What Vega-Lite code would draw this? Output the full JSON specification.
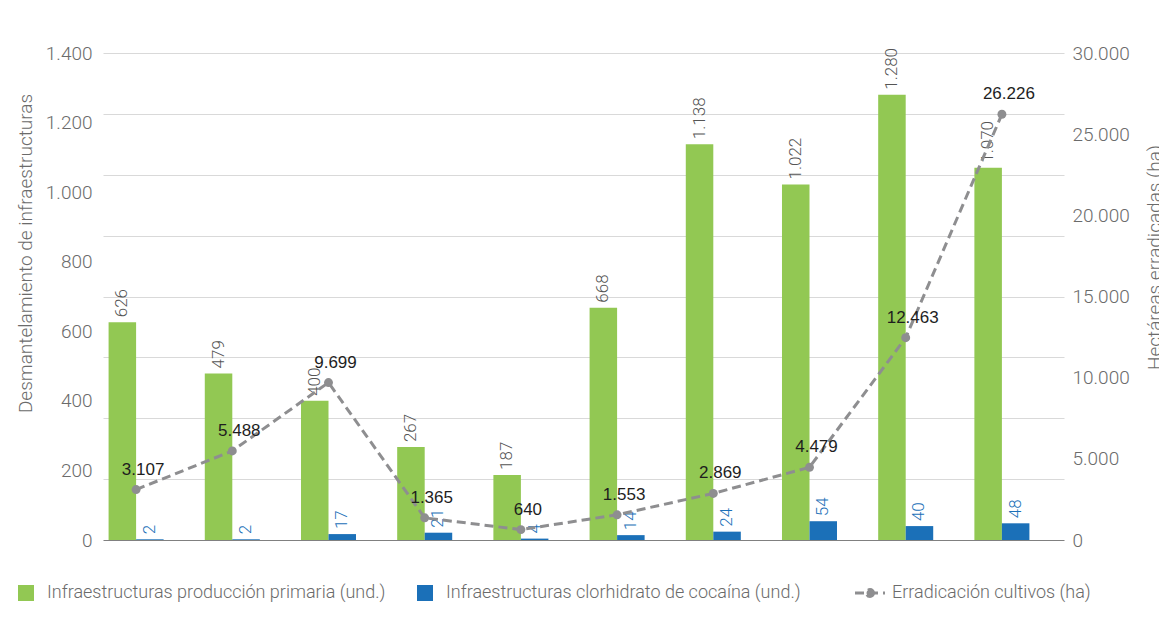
{
  "$schema": "https://vega.github.io/schema/vega-lite/v6.json",
  "width": 961,
  "height": 487,
  "autosize": "none",
  "padding": {"left": 103, "top": 53, "right": 95, "bottom": 86},
  "background": "white",
  "datasets": {
    "barras": [
      {"periodo": "1", "serie": "Infraestructuras producción primaria (und.)", "valor": 626},
      {"periodo": "1", "serie": "Infraestructuras clorhidrato de cocaína (und.)", "valor": 2},
      {"periodo": "2", "serie": "Infraestructuras producción primaria (und.)", "valor": 479},
      {"periodo": "2", "serie": "Infraestructuras clorhidrato de cocaína (und.)", "valor": 2},
      {"periodo": "3", "serie": "Infraestructuras producción primaria (und.)", "valor": 400},
      {"periodo": "3", "serie": "Infraestructuras clorhidrato de cocaína (und.)", "valor": 17},
      {"periodo": "4", "serie": "Infraestructuras producción primaria (und.)", "valor": 267},
      {"periodo": "4", "serie": "Infraestructuras clorhidrato de cocaína (und.)", "valor": 21},
      {"periodo": "5", "serie": "Infraestructuras producción primaria (und.)", "valor": 187},
      {"periodo": "5", "serie": "Infraestructuras clorhidrato de cocaína (und.)", "valor": 4},
      {"periodo": "6", "serie": "Infraestructuras producción primaria (und.)", "valor": 668},
      {"periodo": "6", "serie": "Infraestructuras clorhidrato de cocaína (und.)", "valor": 14},
      {"periodo": "7", "serie": "Infraestructuras producción primaria (und.)", "valor": 1138},
      {"periodo": "7", "serie": "Infraestructuras clorhidrato de cocaína (und.)", "valor": 24},
      {"periodo": "8", "serie": "Infraestructuras producción primaria (und.)", "valor": 1022},
      {"periodo": "8", "serie": "Infraestructuras clorhidrato de cocaína (und.)", "valor": 54},
      {"periodo": "9", "serie": "Infraestructuras producción primaria (und.)", "valor": 1280},
      {"periodo": "9", "serie": "Infraestructuras clorhidrato de cocaína (und.)", "valor": 40},
      {"periodo": "10", "serie": "Infraestructuras producción primaria (und.)", "valor": 1070},
      {"periodo": "10", "serie": "Infraestructuras clorhidrato de cocaína (und.)", "valor": 48}
    ],
    "linea": [
      {"periodo": "1", "serieL": "Erradicación cultivos (ha)", "ha": 3107},
      {"periodo": "2", "serieL": "Erradicación cultivos (ha)", "ha": 5488},
      {"periodo": "3", "serieL": "Erradicación cultivos (ha)", "ha": 9699},
      {"periodo": "4", "serieL": "Erradicación cultivos (ha)", "ha": 1365},
      {"periodo": "5", "serieL": "Erradicación cultivos (ha)", "ha": 640},
      {"periodo": "6", "serieL": "Erradicación cultivos (ha)", "ha": 1553},
      {"periodo": "7", "serieL": "Erradicación cultivos (ha)", "ha": 2869},
      {"periodo": "8", "serieL": "Erradicación cultivos (ha)", "ha": 4479},
      {"periodo": "9", "serieL": "Erradicación cultivos (ha)", "ha": 12463},
      {"periodo": "10", "serieL": "Erradicación cultivos (ha)", "ha": 26226}
    ]
  },
  "layer": [
    {
      "data": {"values": [{"g": 0}]},
      "mark": {"type": "rule", "opacity": 0},
      "encoding": {
        "y": {
          "field": "g", "type": "quantitative",
          "scale": {"domain": [0, 8], "nice": false},
          "axis": {
            "orient": "left", "values": [0, 1, 2, 3, 4, 5, 6, 7, 8],
            "grid": true,
            "gridColor": {"condition": {"test": "datum.value === 0", "value": "#808080"}, "value": "#d9d9d9"},
            "gridWidth": 1.2,
            "labels": false, "ticks": false, "domain": false, "title": null
          }
        }
      }
    },
    {
      "data": {"name": "barras"},
      "encoding": {
        "x": {"field": "periodo", "type": "nominal", "sort": null,
          "scale": {"range": [-15, 947], "paddingInner": 0.428, "paddingOuter": 0.214}, "axis": null},
        "xOffset": {"field": "serie", "type": "nominal",
          "sort": ["Infraestructuras producción primaria (und.)", "Infraestructuras clorhidrato de cocaína (und.)"],
          "scale": {"paddingInner": 0, "paddingOuter": 0}},
        "y": {"field": "valor", "type": "quantitative",
          "scale": {"domain": [0, 1400], "nice": false},
          "axis": {
            "orient": "left", "values": [0, 200, 400, 600, 800, 1000, 1200, 1400], "format": ",.0f",
            "grid": false, "ticks": false, "domain": false, "labelPadding": 11,
            "labelFont": "Roboto", "labelFontWeight": 300, "labelFontSize": 19, "labelColor": "#6b6b6b",
            "title": "Desmantelamiento de infraestructuras",
            "titleFont": "Roboto", "titleFontWeight": 300, "titleFontSize": 19, "titleColor": "#6b6b6b",
            "titleAngle": 270, "titleX": -72, "titleY": 200, "titleAlign": "center", "titleBaseline": "alphabetic"
          }}
      },
      "layer": [
        {
          "mark": {"type": "bar"},
          "encoding": {
            "color": {"field": "serie", "type": "nominal",
              "scale": {"domain": ["Infraestructuras producción primaria (und.)", "Infraestructuras clorhidrato de cocaína (und.)"],
                "range": ["#92c853", "#1b70b8"]},
              "legend": {
                "title": null, "orient": "none", "direction": "horizontal", "legendX": -86, "legendY": 531,
                "symbolType": "square", "symbolSize": 256, "symbolStrokeWidth": 0, "labelOffset": 12,
                "columnPadding": 30, "padding": 0,
                "labelFont": "Roboto", "labelFontWeight": 300, "labelFontSize": 18, "labelColor": "#6b6b6b", "labelLimit": 600
              }}
          }
        },
        {
          "mark": {"type": "text", "angle": 270, "align": "left", "baseline": "middle", "dx": 5,
            "font": "Roboto", "fontWeight": 300, "fontSize": 17},
          "encoding": {
            "text": {"field": "valor", "type": "quantitative", "format": ","},
            "color": {"condition": {"test": "datum.serie === 'Infraestructuras clorhidrato de cocaína (und.)'", "value": "#1b70b8"}, "value": "#555555"}
          }
        }
      ]
    },
    {
      "data": {"name": "linea"},
      "encoding": {
        "x": {"field": "periodo", "type": "nominal", "sort": null},
        "y": {"field": "ha", "type": "quantitative",
          "scale": {"domain": [0, 30000], "nice": false},
          "axis": {
            "orient": "right", "values": [0, 5000, 10000, 15000, 20000, 25000, 30000], "format": ",.0f",
            "grid": false, "ticks": false, "domain": false, "labelPadding": 8,
            "labelFont": "Roboto", "labelFontWeight": 300, "labelFontSize": 19, "labelColor": "#6b6b6b",
            "title": "Hectáreas erradicadas (ha)",
            "titleFont": "Roboto", "titleFontWeight": 300, "titleFontSize": 19, "titleColor": "#6b6b6b",
            "titleAngle": 270, "titleX": 96, "titleY": 204, "titleAlign": "center", "titleBaseline": "alphabetic"
          }}
      },
      "layer": [
        {
          "mark": {"type": "line", "color": "#8e8e90", "strokeWidth": 3},
          "encoding": {
            "strokeDash": {"field": "serieL", "type": "nominal",
              "scale": {"range": [[9, 5]]},
              "legend": {
                "title": null, "orient": "none", "legendX": 758, "legendY": 531, "padding": 0,
                "symbolType": "M-3.75,0H3.75M0.875,0A0.875,0.875 0 1 1 -0.875,0A0.875,0.875 0 1 1 0.875,0Z",
                "symbolSize": 64, "symbolStrokeColor": "#8e8e90", "symbolFillColor": "#8e8e90", "symbolStrokeWidth": 3,
                "labelOffset": 13,
                "labelFont": "Roboto", "labelFontWeight": 300, "labelFontSize": 18, "labelColor": "#6b6b6b", "labelLimit": 600
              }}
          }
        },
        {
          "mark": {"type": "point", "filled": true, "size": 80, "color": "#8e8e90", "opacity": 1}
        },
        {
          "mark": {"type": "text", "dx": 7, "dy": -20, "align": "center", "baseline": "middle",
            "font": "Liberation Sans", "fontSize": 17, "color": "#1e1e1e"},
          "encoding": {
            "text": {"field": "ha", "type": "quantitative", "format": ","}
          }
        }
      ]
    }
  ],
  "resolve": {"scale": {"y": "independent"}},
  "config": {
    "font": "Roboto",
    "view": {"stroke": null},
    "locale": {"number": {"decimal": ",", "thousands": ".", "grouping": [3], "currency": ["$", ""]}}
  }
}
